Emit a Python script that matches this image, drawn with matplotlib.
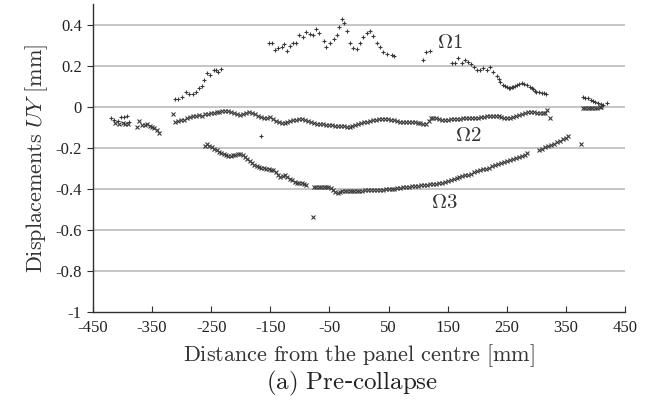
import numpy as np
import matplotlib
matplotlib.use("Agg")
import matplotlib.pyplot as plt

plt.rcParams['mathtext.fontset'] = 'cm'
plt.rcParams['axes.unicode_minus'] = False

# Omega 1 (+ markers)
o1_x = [-420, -414, -408, -402, -398, -392, -389,
        -311, -306, -299, -293, -288, -280, -275, -270, -266, -262, -257, -252, -246, -242, -238, -234,
        -165,
        -152, -148, -142, -137, -131, -127, -122, -117, -111, -106, -101, -94, -89, -83, -77, -72, -67,
        -60, -55, -49, -43, -38, -33, -29, -25, -20, -15, -10, -3, 2, 7, 13, 19, 24, 30, 36, 41, 47,
        55, 59,
        109, 114, 120,
        157, 162, 168, 174, 179, 185, 190, 195, 199, 205, 210, 216, 222, 227, 233, 236, 239, 244, 247,
        250, 253, 255, 258, 261, 264, 267, 271, 275, 279, 284, 289, 292, 295, 298, 300, 304, 309, 313, 317,
        379, 383, 388, 392, 396, 400, 405, 409, 413, 419]
o1_y = [-0.054, -0.065, -0.070, -0.050, -0.048, -0.045, -0.075,
        0.036, 0.036, 0.046, 0.072, 0.062, 0.062, 0.073, 0.090, 0.100, 0.130, 0.166, 0.155, 0.179, 0.179, 0.168, 0.184,
        -0.143,
        0.309, 0.309, 0.277, 0.285, 0.293, 0.304, 0.273, 0.296, 0.312, 0.312, 0.350, 0.339, 0.366, 0.355, 0.350, 0.378, 0.358,
        0.322, 0.290, 0.309, 0.329, 0.350, 0.390, 0.426, 0.407, 0.371, 0.309, 0.285, 0.280, 0.310, 0.340, 0.358, 0.370, 0.345, 0.312, 0.293, 0.268, 0.257,
        0.252, 0.247,
        0.228, 0.268, 0.273,
        0.212, 0.215, 0.236, 0.212, 0.228, 0.220, 0.208, 0.195, 0.182, 0.179, 0.187, 0.182, 0.195, 0.171, 0.150, 0.138, 0.122, 0.106, 0.100,
        0.095, 0.094, 0.093, 0.095, 0.098, 0.102, 0.106, 0.112, 0.117, 0.112, 0.106, 0.095, 0.090, 0.085, 0.078, 0.073, 0.071, 0.068, 0.066, 0.065,
        0.049, 0.045, 0.041, 0.035, 0.029, 0.025, 0.020, 0.014, 0.008, 0.020]

# Omega 2 (x markers)
o2_x = [-412, -406, -400, -395, -390, -376, -372, -367, -362, -358, -354, -350, -346, -342, -338,
        -315, -311, -306, -301, -296, -291, -286, -281, -276, -271, -266, -261, -256, -251, -246, -241,
        -236, -231, -226, -221, -216, -211, -206, -201, -196, -191, -186, -181, -176, -171, -166, -161,
        -156, -151, -146, -141, -136, -131, -126, -121, -116, -111, -106, -101, -96, -91, -86, -81, -76,
        -71, -66, -61, -56, -51, -46, -41, -36, -31, -26, -21, -16, -11, -6, -1, 4, 9, 14, 19, 24, 29,
        34, 39, 44, 49, 54, 59, 64, 69, 74, 79, 84, 89, 94, 99, 104, 109, 114, 118, 122, 126, 131, 136,
        141, 146, 151, 156, 161, 166, 171, 176, 181, 186, 191, 196, 201, 206, 211, 216, 221, 226, 231,
        236, 241, 246, 251, 256, 261, 266, 271, 276, 281, 286, 291, 296, 301, 306, 311, 315, 318, 323,
        379, 383, 387, 391, 395, 399, 403, 407, 410]
o2_y = [-0.078, -0.082, -0.080, -0.082, -0.085, -0.098, -0.070, -0.090, -0.088, -0.086, -0.094, -0.097, -0.104, -0.112, -0.127,
        -0.036, -0.073, -0.070, -0.066, -0.062, -0.055, -0.050, -0.047, -0.046, -0.041, -0.043, -0.036, -0.033, -0.031, -0.030, -0.027,
        -0.025, -0.018, -0.022, -0.020, -0.026, -0.030, -0.037, -0.040, -0.037, -0.030, -0.025, -0.028, -0.036, -0.044, -0.049, -0.052,
        -0.055, -0.050, -0.060, -0.068, -0.074, -0.081, -0.080, -0.075, -0.070, -0.066, -0.062, -0.058, -0.060, -0.064, -0.068, -0.074, -0.078,
        -0.082, -0.084, -0.085, -0.087, -0.089, -0.090, -0.091, -0.093, -0.094, -0.095, -0.096, -0.097, -0.094, -0.090, -0.085, -0.080, -0.076, -0.072, -0.069, -0.066, -0.063,
        -0.061, -0.060, -0.060, -0.061, -0.062, -0.066, -0.070, -0.073, -0.074, -0.073, -0.073, -0.074, -0.076, -0.078, -0.080, -0.083, -0.084, -0.070, -0.055, -0.052, -0.056, -0.060,
        -0.063, -0.065, -0.063, -0.061, -0.059, -0.058, -0.057, -0.056, -0.055, -0.054, -0.053, -0.052, -0.052, -0.051, -0.049, -0.047, -0.045, -0.045, -0.046,
        -0.047, -0.050, -0.053, -0.054, -0.052, -0.049, -0.045, -0.040, -0.036, -0.030, -0.026, -0.024, -0.027, -0.030, -0.032, -0.031, -0.028, -0.016, -0.052,
        -0.007, -0.007, -0.006, -0.006, -0.005, -0.004, -0.004, -0.003, -0.002]

# Omega 3 (x markers)
o3_x = [-261, -257, -253, -249, -245, -241, -237, -233, -229, -225, -221, -217, -213, -209, -205, -201,
        -197, -193, -189, -185, -181, -177, -173, -169, -165, -161, -157, -153, -149, -145, -141, -137,
        -133, -129, -125, -121, -117, -113, -109, -105, -101, -97, -93, -89,
        -77,
        -76, -72, -68, -64, -60, -56, -52, -48, -44, -40, -36, -32, -28, -24, -20, -16, -12, -8, -4,
        0, 5, 10, 15, 20, 25, 30, 35, 40, 45, 50, 55, 60, 65, 70, 75, 80, 85, 90, 95, 100, 105, 110,
        115, 120, 125, 130, 135, 140, 145, 150, 155, 160, 165, 170, 175, 180, 185, 190, 195, 200, 205,
        210, 215, 220, 225, 230, 235, 240, 245, 250, 255, 260, 265, 270, 275, 280, 285,
        305, 310, 315, 320, 325, 330, 335, 340, 345, 350, 353,
        375]
o3_y = [-0.192, -0.183, -0.190, -0.197, -0.205, -0.212, -0.220, -0.226, -0.232, -0.236, -0.238, -0.238, -0.237, -0.236, -0.232, -0.228,
        -0.236, -0.246, -0.256, -0.266, -0.276, -0.285, -0.290, -0.294, -0.297, -0.299, -0.302, -0.305, -0.307, -0.310, -0.318, -0.330,
        -0.340, -0.336, -0.333, -0.340, -0.350, -0.357, -0.364, -0.371, -0.371, -0.372, -0.378, -0.383,
        -0.537,
        -0.390, -0.390, -0.390, -0.391, -0.390, -0.391, -0.392, -0.395, -0.403, -0.415, -0.420, -0.414, -0.411, -0.411, -0.412, -0.411, -0.410, -0.411, -0.410,
        -0.409, -0.408, -0.407, -0.406, -0.405, -0.404, -0.403, -0.404, -0.403, -0.402, -0.402, -0.401, -0.399, -0.397, -0.394, -0.392, -0.390, -0.389, -0.388, -0.386, -0.386, -0.383, -0.383,
        -0.380, -0.378, -0.376, -0.374, -0.372, -0.369, -0.367, -0.362, -0.359, -0.354, -0.347, -0.343, -0.338, -0.334, -0.330, -0.325, -0.319, -0.314, -0.309,
        -0.305, -0.301, -0.296, -0.290, -0.285, -0.280, -0.275, -0.270, -0.264, -0.260, -0.255, -0.250, -0.246, -0.240, -0.233, -0.227,
        -0.212, -0.205, -0.198, -0.192, -0.186, -0.179, -0.172, -0.165, -0.158, -0.150, -0.143,
        -0.182]

xticks = [-450, -350, -250, -150, -50, 50, 150, 250, 350, 450]
yticks = [-1, -0.8, -0.6, -0.4, -0.2, 0, 0.2, 0.4]
ytick_labels = ['-1', '-0.8', '-0.6', '-0.4', '-0.2', '0', '0.2', '0.4']

fig = plt.figure(figsize=(6.52, 4.13), dpi=100)
ax = fig.add_axes([0.1426, 0.2446, 0.816, 0.745])

mc = '#3a3a3a'
ax.plot(o1_x, o1_y, ls='none', marker='+', ms=3.2, mew=0.8, color=mc, zorder=3)
ax.plot(o2_x, o2_y, ls='none', marker='x', ms=2.5, mew=0.8, color=mc, zorder=3)
ax.plot(o3_x, o3_y, ls='none', marker='x', ms=2.5, mew=0.8, color=mc, zorder=3)

ax.set_xlim(-450, 450)
ax.set_ylim(-1, 0.5)
ax.set_xticks(xticks)
ax.set_xticklabels([str(v) for v in xticks])
ax.set_yticks(yticks)
ax.set_yticklabels(ytick_labels)

for y in yticks[1:]:
    ax.axhline(y, color='#c0c0c0', lw=1.3, zorder=1)

for s in ['top', 'right']:
    ax.spines[s].set_visible(False)
for s in ['left', 'bottom']:
    ax.spines[s].set_color('#303030')
    ax.spines[s].set_linewidth(1.0)

ax.tick_params(axis='x', direction='in', length=4, color='#303030', pad=6)
ax.tick_params(axis='y', direction='out', length=4, color='#303030', pad=4)
for lab in ax.get_xticklabels() + ax.get_yticklabels():
    lab.set_fontfamily('Liberation Serif')
    lab.set_fontsize(12)
    lab.set_color('#222222')

ax.text(154, 0.315, r'$\Omega1$', fontsize=15, color='#333333', ha='center', va='center')
ax.text(185, -0.135, r'$\Omega2$', fontsize=15, color='#333333', ha='center', va='center')
ax.text(144, -0.463, r'$\Omega3$', fontsize=15, color='#333333', ha='center', va='center')

ax.set_xlabel(r'$\mathrm{Distance\ from\ the\ panel\ centre\ [mm]}$', fontsize=16, color='#333333', labelpad=4)
ax.set_ylabel(r'$\mathrm{Displacements}\ UY\ \mathrm{[mm]}$', fontsize=16, color='#333333', labelpad=4)
fig.text(0.54, 0.072, r'$\mathrm{(a)\ Pre}$-$\mathrm{collapse}$', fontsize=18, ha='center', va='center', color='#222222')

fig.savefig('out.png', dpi=100)
